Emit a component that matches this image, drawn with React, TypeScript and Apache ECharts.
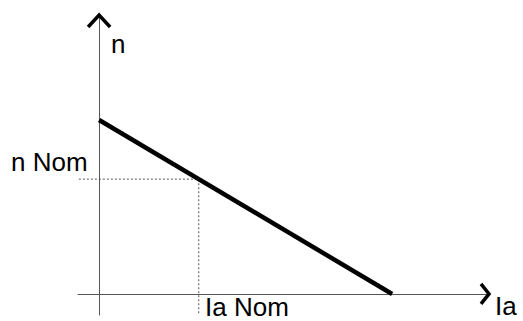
import React, { useEffect, useRef } from "react";
import * as echarts from "echarts";

// Characteristic n(Ia): straight line from no-load speed to stall current
const lineIa = [0, 100];
const lineN = [100, 0];
// Nominal operating point
const iaNom = 34;
const nNom = 66;
// Axis extents (data units)
const xMin = -7.2;
const xMax = 133.4;
const yMin = -12.1;
const yMax = 160.9;
// Labels
const labels = ["n", "n Nom", "Ia Nom", "Ia"];

const FONT = "'Liberation Sans', Arial, sans-serif";

export default function App() {
  const ref = useRef<HTMLDivElement>(null);
  useEffect(() => {
    document.body.style.margin = "0";
    const chart = echarts.init(ref.current!, null, { renderer: "svg" });
    const axisBase = {
      type: "value" as const,
      axisTick: { show: false },
      axisLabel: { show: false },
      splitLine: { show: false },
      axisLine: { show: true, onZero: true, lineStyle: { color: "#555", width: 1 } },
    };
    const font = `26px ${FONT}`;
    chart.setOption({
      animation: false,
      backgroundColor: "#fff",
      grid: { left: 78, right: 33, top: 14, bottom: 6 },
      xAxis: { ...axisBase, min: xMin, max: xMax },
      yAxis: { ...axisBase, min: yMin, max: yMax },
      series: [
        {
          type: "line",
          data: lineIa.map((x, i) => [x, lineN[i]]),
          showSymbol: false,
          lineStyle: { color: "#000", width: 4.5 },
          z: 5,
        },
        {
          type: "line",
          data: [[xMin + 0.3, nNom], [iaNom, nNom], [iaNom, yMin]],
          showSymbol: false,
          lineStyle: { color: "#555", width: 1, type: [2, 2] },
          z: 3,
        },
        {
          type: "custom",
          clip: false,
          data: [[xMax, 0, 0], [0, yMax, 1]],
          renderItem: (params: any, api: any) => {
            const p = api.coord([api.value(0), api.value(1)]);
            const isY = api.value(2) === 1;
            const pts = isY
              ? [[p[0] - 11, p[1] + 13], [p[0], p[1] + 1], [p[0] + 11, p[1] + 13]]
              : [[p[0] - 9, p[1] - 10], [p[0] - 1, p[1]], [p[0] - 9, p[1] + 10]];
            return {
              type: "polyline",
              shape: { points: pts },
              style: { stroke: "#000", lineWidth: 3.5, fill: null, lineJoin: "miter" },
            };
          },
          z: 6,
        },
      ],
      graphic: [
        { type: "text", left: 111, top: 31, style: { text: labels[0], font, fill: "#000" } },
        { type: "text", left: 11, top: 149, style: { text: labels[1], font, fill: "#000" } },
        { type: "text", left: 205, top: 294, style: { text: labels[2], font, fill: "#000" } },
        { type: "text", left: 495, top: 293, style: { text: labels[3], font, fill: "#000" } },
      ],
    });
    return () => chart.dispose();
  }, []);
  return <div ref={ref} style={{ width: 523, height: 321, position: "fixed", left: 0, top: 0 }} />;
}
